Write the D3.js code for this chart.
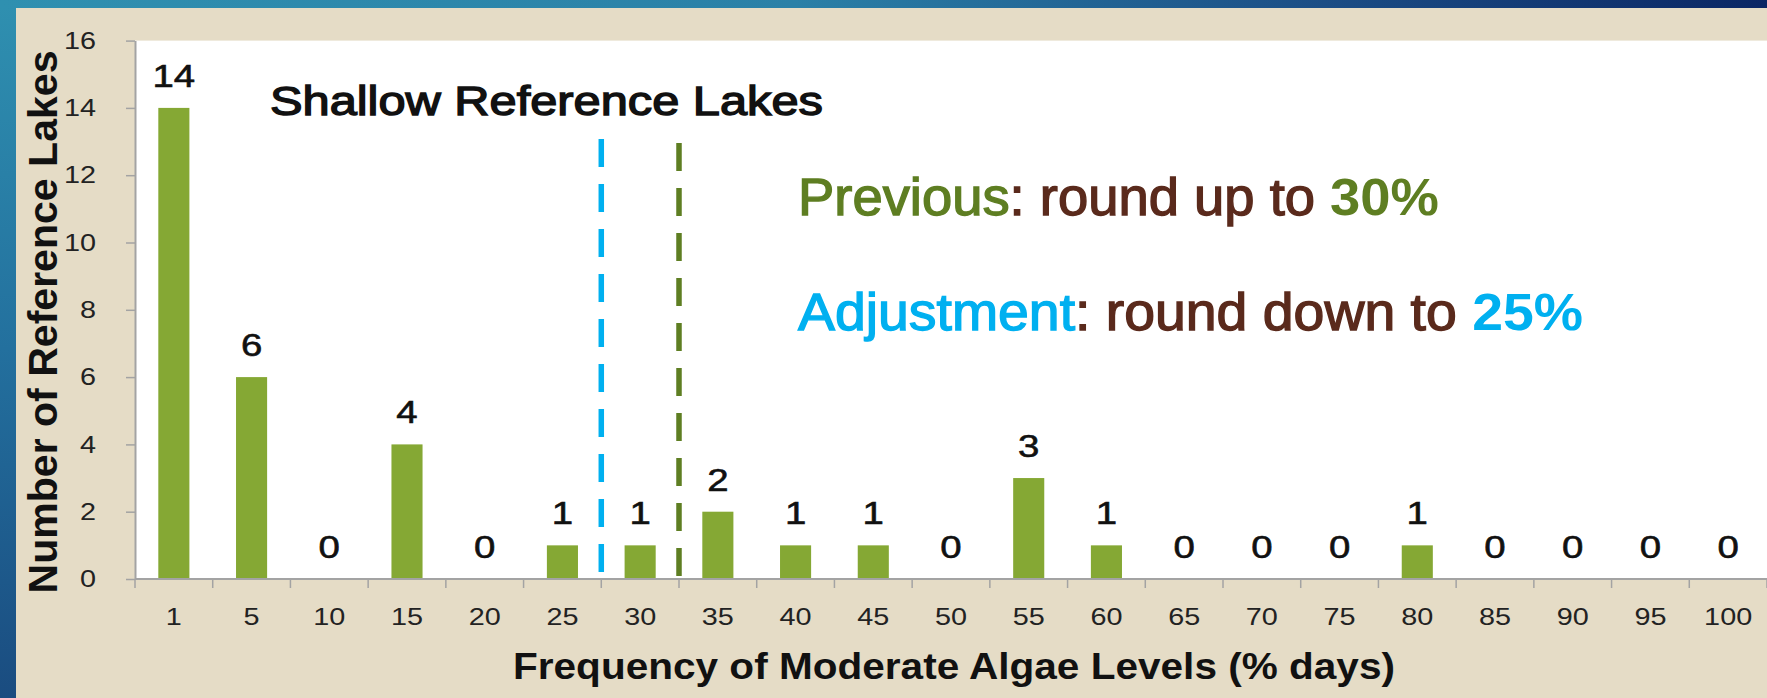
<!DOCTYPE html>
<html><head><meta charset="utf-8">
<script src="https://cdn.jsdelivr.net/npm/d3@7"></script>
<style>
html,body{margin:0;padding:0;overflow:hidden;background:#1d4f80;}
svg{display:block;}
text{font-family:"Liberation Sans", Arial, sans-serif;}
</style></head><body>
<svg id="chart" width="1767" height="698"></svg>
<script>
// ---- data ----
const categories = ["1","5","10","15","20","25","30","35","40","45","50","55","60","65","70","75","80","85","90","95","100"];
const counts = [14,6,0,4,0,1,1,2,1,1,0,3,1,0,0,0,1,0,0,0,0];
const yTicks = [0,2,4,6,8,10,12,14,16];
const thresholdAfter = ["25","30"];           // dashed lines drawn after these categories
const thresholdNames = ["Adjustment","Previous"];
const thresholdColors = ["#00b0f0","#5e7e22"];
const chartTitle = "Shallow Reference Lakes";
const xTitle = "Frequency of Moderate Algae Levels (% days)";
const yTitle = "Number of Reference Lakes";

// ---- layout ----
const W = 1767, H = 698;
const plot = {left:135, top:40.6, right:1767, bottom:579};
const sx = 1.2; // horizontal stretch of digit labels
const svg = d3.select("#chart");

const defs = svg.append("defs");
const gTop = defs.append("linearGradient").attr("id","gTop").attr("x1",0).attr("x2",1).attr("y1",0).attr("y2",0);
[[0,"#2f90b0"],[0.45,"#2a80a7"],[0.75,"#1b4d85"],[1,"#0a2664"]].forEach(s=>gTop.append("stop").attr("offset",s[0]).attr("stop-color",s[1]));
const gLeft = defs.append("linearGradient").attr("id","gLeft").attr("x1",0).attr("x2",0).attr("y1",0).attr("y2",1);
[[0,"#2f90b0"],[0.5,"#23709e"],[1,"#1a4c80"]].forEach(s=>gLeft.append("stop").attr("offset",s[0]).attr("stop-color",s[1]));

svg.append("rect").attr("x",0).attr("y",0).attr("width",W).attr("height",H).attr("fill","url(#gLeft)");
svg.append("rect").attr("x",0).attr("y",0).attr("width",W).attr("height",10).attr("fill","url(#gTop)");
svg.append("rect").attr("x",16).attr("y",8).attr("width",W-16).attr("height",H-8).attr("fill","#e5dcc6");
svg.append("rect").attr("x",plot.left).attr("y",plot.top).attr("width",plot.right-plot.left).attr("height",plot.bottom-plot.top).attr("fill","#ffffff");

const x = d3.scaleBand().domain(categories).range([plot.left, plot.right]).paddingInner(0.6).paddingOuter(0.3);
const y = d3.scaleLinear().domain([0,16]).range([plot.bottom, plot.top]);
const step = x.step();
const boundary = c => x(c) + x.bandwidth() + step*x.paddingInner()/2;

// bars
svg.append("g").selectAll("rect").data(categories).join("rect")
  .attr("x", d=>x(d)).attr("width", x.bandwidth())
  .attr("y", (d,i)=>y(counts[i])).attr("height",(d,i)=>y(0)-y(counts[i]))
  .attr("fill","#85a834");

// y axis
const yAxis = svg.append("g").attr("transform",`translate(${plot.left},0)`)
  .call(d3.axisLeft(y).tickValues(yTicks).tickSize(9).tickSizeOuter(0).tickPadding(16));
yAxis.select(".domain").attr("stroke","#a3a3a3").attr("stroke-width",2);
yAxis.selectAll(".tick line").attr("stroke","#a3a3a3").attr("stroke-width",1.5);
yAxis.selectAll(".tick text").attr("font-size",24).attr("fill","#222").attr("font-family","Liberation Sans, Arial, sans-serif")
  .attr("x",-39/sx).attr("transform",`scale(${sx},1)`);

// x axis (labels centered on bands)
const xAxis = svg.append("g").attr("transform",`translate(0,${plot.bottom})`)
  .call(d3.axisBottom(x).tickSize(0).tickPadding(29));
xAxis.select(".domain").remove();
xAxis.selectAll(".tick text").attr("font-size",24).attr("fill","#222").attr("font-family","Liberation Sans, Arial, sans-serif")
  .attr("transform",`scale(${sx},1)`);
// boundary ticks
const bounds = [plot.left].concat(categories.map(boundary));
svg.append("g").selectAll("line").data(bounds).join("line")
  .attr("x1",d=>d).attr("x2",d=>d).attr("y1",plot.bottom).attr("y2",plot.bottom+9)
  .attr("stroke","#a3a3a3").attr("stroke-width",1.5);
svg.append("line").attr("x1",plot.left).attr("x2",plot.right).attr("y1",plot.bottom).attr("y2",plot.bottom)
  .attr("stroke","#a3a3a3").attr("stroke-width",2);

// value labels
svg.append("g").selectAll("text").data(categories).join("text")
  .attr("transform",(d,i)=>`translate(${x(d)+x.bandwidth()/2},${y(counts[i])-21}) scale(${sx},1)`)
  .attr("text-anchor","middle").attr("font-size",32).attr("fill","#111")
  .attr("stroke","#111").attr("stroke-width",0.6)
  .text((d,i)=>counts[i]);

// threshold dashed lines
const dashTop = [139,143], dashBottom=[582,588];
thresholdAfter.forEach((c,i)=>{
  const bx = boundary(c);
  svg.append("line").attr("x1",bx).attr("x2",bx).attr("y1",dashTop[i]).attr("y2",dashBottom[i])
    .attr("stroke",thresholdColors[i]).attr("stroke-width",5.5).attr("stroke-dasharray","28 17");
});

// title
svg.append("text").attr("x",270).attr("y",115).attr("font-size",41).attr("fill","#111")
  .attr("stroke","#111").attr("stroke-width",1.4)
  .attr("textLength",553).attr("lengthAdjust","spacingAndGlyphs").text(chartTitle);

// annotations
const brown = "#5a2a1c";
const a1 = svg.append("text").attr("x",798).attr("y",215).attr("font-size",51)
  .attr("textLength",641).attr("lengthAdjust","spacingAndGlyphs");
a1.append("tspan").attr("fill",thresholdColors[1]).attr("stroke",thresholdColors[1]).attr("stroke-width",1.3).text(thresholdNames[1]);
a1.append("tspan").attr("fill",brown).attr("stroke",brown).attr("stroke-width",1.3).text(": round up to ");
a1.append("tspan").attr("fill",thresholdColors[1]).attr("font-weight","bold").text(thresholdAfter[1]+"%");
const a2 = svg.append("text").attr("x",798).attr("y",330).attr("font-size",51)
  .attr("textLength",785).attr("lengthAdjust","spacingAndGlyphs");
a2.append("tspan").attr("fill",thresholdColors[0]).attr("stroke",thresholdColors[0]).attr("stroke-width",1.3).text(thresholdNames[0]);
a2.append("tspan").attr("fill",brown).attr("stroke",brown).attr("stroke-width",1.3).text(": round down to ");
a2.append("tspan").attr("fill",thresholdColors[0]).attr("font-weight","bold").text(thresholdAfter[0]+"%");

// axis titles
svg.append("text").attr("x",954).attr("y",679).attr("text-anchor","middle").attr("font-size",37)
  .attr("font-weight","bold").attr("fill","#111").attr("textLength",882).attr("lengthAdjust","spacingAndGlyphs").text(xTitle);
svg.append("text").attr("transform","translate(57,322) rotate(-90)").attr("text-anchor","middle").attr("font-size",41)
  .attr("font-weight","bold").attr("fill","#111").attr("textLength",543).attr("lengthAdjust","spacingAndGlyphs").text(yTitle);
</script>
</body></html>
